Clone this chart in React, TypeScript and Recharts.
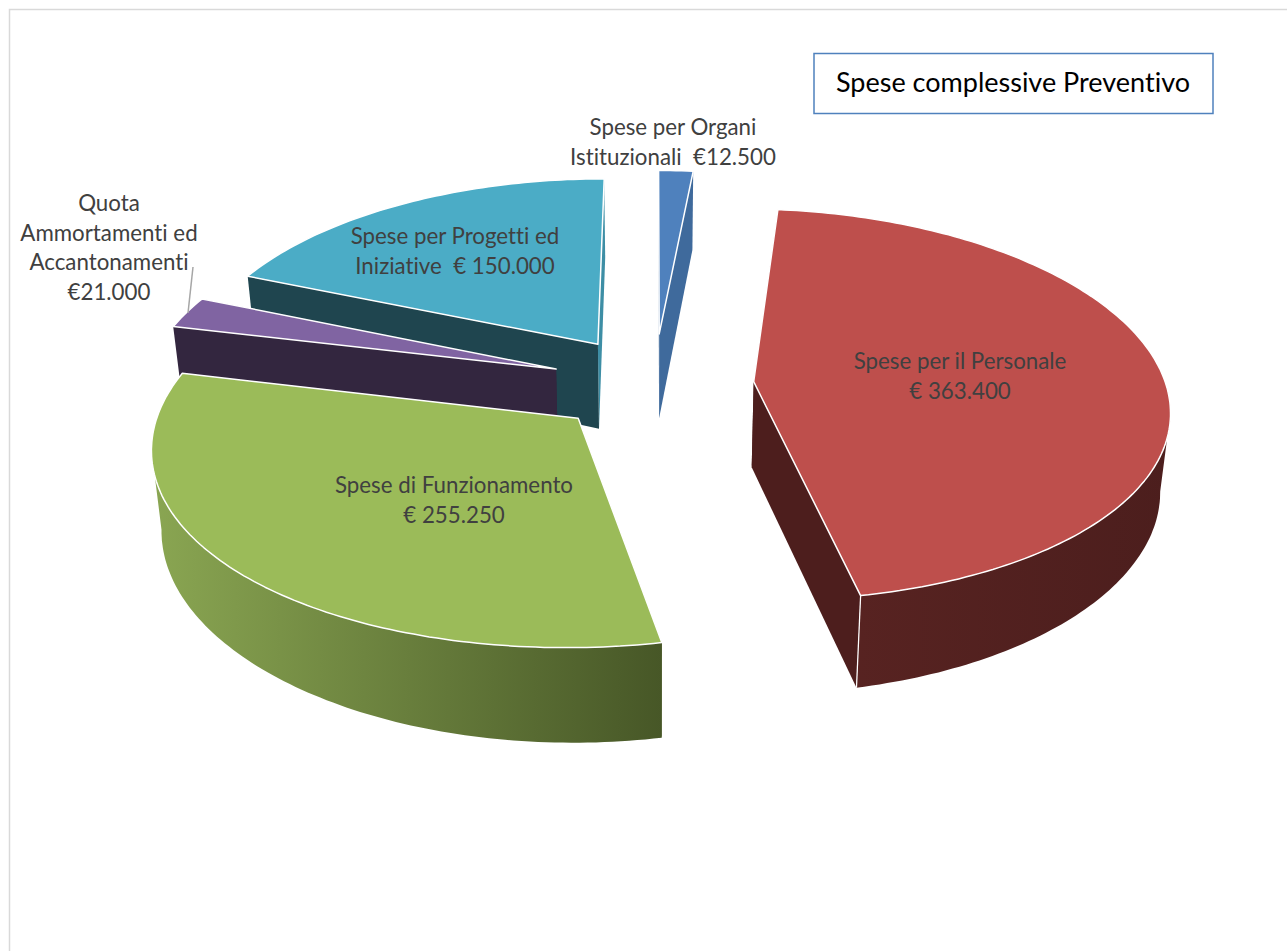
import React from 'react';
import { PieChart, Pie } from 'recharts';

// order runs counter-clockwise from 12 o'clock, so back slices paint first
const categories = [
  'Spese per Progetti ed Iniziative',
  'Quota Ammortamenti ed Accantonamenti',
  'Spese di Funzionamento',
  'Spese per il Personale',
  'Spese per Organi Istituzionali',
];
const amounts = [150000, 21000, 255250, 363400, 12500];
const labelLines = [
  ['Spese per Progetti ed', 'Iniziative  € 150.000'],
  ['Quota', 'Ammortamenti ed', 'Accantonamenti', '€21.000'],
  ['Spese di Funzionamento', '€ 255.250'],
  ['Spese per il Personale', '€ 363.400'],
  ['Spese per Organi', 'Istituzionali  €12.500'],
];

const chartData = categories.map((name, i) => ({ name, value: amounts[i] }));

const topColors = ['#4bacc6', '#8064a2', '#9bbb59', '#be4f4c', '#4f81bd'];
const startFaceColors = ['#3d8ea5', '#33263f', '#4c5b2c', '#4d1e1d', '#3f6a9c'];
const endFaceColors = ['#1f454f', '#33263f', '#4c5b2c', '#4d1e1d', '#3f6a9c'];
const wallStops = [
  ['#1f454f', '#1f454f'],
  ['#33263f', '#33263f'],
  ['#8aa652', '#475727'],
  ['#5a2422', '#4c1e1d'],
  ['#3f6a9c', '#3f6a9c'],
];
const labelPos = [
  { x: 455, y: 244 },
  { x: 109, y: 211 },
  { x: 454, y: 493 },
  { x: 960, y: 369 },
  { x: 673, y: 135 },
];
const explodeBy = [104, 104, 103, 100, 110];

const FONT = 'Lato, sans-serif';
const TILT = 0.47;
const PERSPECTIVE_X = 0.13;
const PERSPECTIVE_Y = 0.1175;
const DEPTH = 86;
const RAD = Math.PI / 180;

const toPath = (pts: number[][]) =>
  pts.map((p, i) => `${i ? 'L' : 'M'}${p[0].toFixed(1)} ${p[1].toFixed(1)}`).join(' ') + ' Z';

const Slice3D = (props: any) => {
  const { cx, cy, outerRadius, startAngle, endAngle, index } = props;
  const mid = ((startAngle + endAngle) / 2) * RAD;
  const ox = explodeBy[index] * Math.cos(mid);
  const oy = -explodeBy[index] * Math.sin(mid);

  // disk coordinates -> screen, the top face
  const top = (u: number, v: number) => {
    const depth = (v + oy) / outerRadius;
    const s = 1 / (1 - PERSPECTIVE_X * depth);
    return [cx + (u + ox) * s, cy + (TILT * (v + oy)) / (1 - PERSPECTIVE_Y * depth), s, v];
  };
  const under = (p: number[]) => {
    const side = (p[0] - cx) / outerRadius;
    const h = DEPTH * (1 + 0.6 * (p[2] - 1)) * (1 - 0.06 * side * side);
    return [cx + (p[0] - cx) * 0.98, p[1] + h, p[2], p[3]];
  };

  const rim: number[][] = [];
  const steps = Math.max(2, Math.ceil(endAngle - startAngle));
  for (let i = 0; i <= steps; i++) {
    const a = (startAngle + ((endAngle - startAngle) * i) / steps) * RAD;
    rim.push(top(outerRadius * Math.cos(a), -outerRadius * Math.sin(a)));
  }
  const apex = top(0, 0);
  const first = rim[0];
  const last = rim[rim.length - 1];
  const xs = rim.map(p => p[0]);
  // the outer wall only shows up to the right extreme of the near rim, and from the left one
  const leftMost = xs.indexOf(Math.min(...xs));
  const rightMost = xs.indexOf(Math.max(...xs));
  const front = rim.slice(leftMost < rightMost ? leftMost : 0, rightMost + 1);
  const gid = `wall-${index}`;

  return (
    <g>
      <defs>
        <linearGradient id={gid} gradientUnits="userSpaceOnUse" x1={Math.min(...xs)} x2={Math.max(...xs)} y1={0} y2={0}>
          <stop offset="0%" stopColor={wallStops[index][0]} />
          <stop offset="100%" stopColor={wallStops[index][1]} />
        </linearGradient>
      </defs>
      <path d={toPath([apex, first, under(first), under(apex)])} fill={startFaceColors[index]} />
      <path d={toPath([apex, last, under(last), under(apex)])} fill={endFaceColors[index]} />
      {front.length > 1 && <path d={toPath([...front, ...front.map(under).reverse()])} fill={`url(#${gid})`} />}
      {first[3] > 0 && <line x1={first[0]} y1={first[1]} x2={under(first)[0]} y2={under(first)[1]} stroke="#fff" strokeWidth={1.25} />}
      <path d={toPath([apex, ...rim])} fill={topColors[index]} stroke="#fff" strokeWidth={1.5} strokeLinejoin="round" />
    </g>
  );
};

const SliceLabel = (props: any) => {
  const { index } = props;
  const pos = labelPos[index];
  return (
    <g>
      {labelLines[index].map((line, i) => (
        <text key={line} x={pos.x} y={pos.y + i * 29.7} textAnchor="middle" fontFamily={FONT} fontSize={22.3} fill="#404040" style={{ whiteSpace: 'pre', fontVariantLigatures: 'none' }}>
          {line}
        </text>
      ))}
      {index === 1 && <line x1={193} y1={267} x2={188} y2={313} stroke="#a6a6a6" strokeWidth={1.5} />}
    </g>
  );
};

export default function App() {
  return (
    <div style={{ position: 'absolute', left: 0, top: 0, width: 1287, height: 951, background: '#fff', overflow: 'hidden' }}>
      <PieChart width={1287} height={951} margin={{ top: 0, right: 0, bottom: 0, left: 0 }}>
        <rect x={9.5} y={9.5} width={1400} height={1100} fill="none" stroke="#d9d9d9" strokeWidth={1.5} />
        <Pie
          data={chartData}
          dataKey="value"
          nameKey="name"
          cx={654}
          cy={384}
          innerRadius={0}
          outerRadius={412}
          startAngle={90}
          endAngle={450}
          paddingAngle={0}
          shape={Slice3D}
          label={SliceLabel}
          labelLine={false}
          isAnimationActive={false}
        />
        <rect x={814} y={53.5} width={399} height={60} fill="#fff" stroke="#4f81bd" strokeWidth={1.5} />
        <text x={1013} y={92} textAnchor="middle" fontFamily={FONT} fontSize={27} fill="#000" style={{ fontVariantLigatures: 'none' }}>
          Spese complessive Preventivo
        </text>
      </PieChart>
    </div>
  );
}
